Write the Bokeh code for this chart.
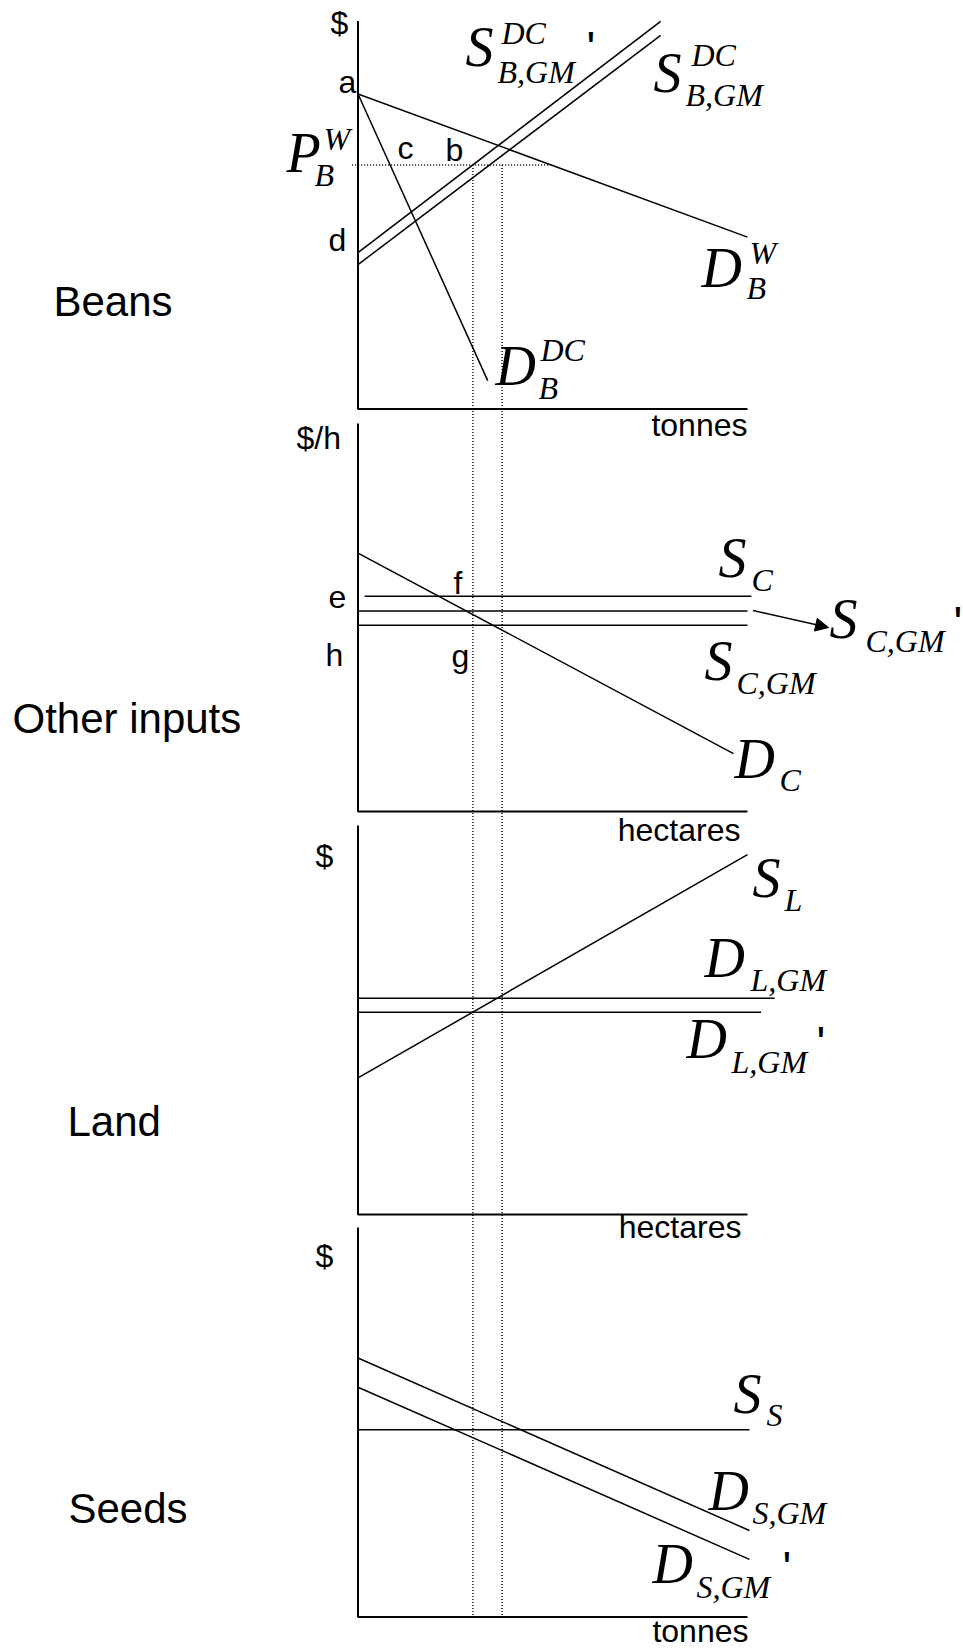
from bokeh.plotting import figure
from bokeh.models import Range1d, ColumnDataSource, Arrow, NormalHead
from bokeh.core.properties import value
from bokeh.embed import file_html
from bokeh.resources import INLINE

# ------------------------------------------------------------------
# DATA (schematic units: quantity 0..10 on every panel, price 0..10)
# ------------------------------------------------------------------
Q_MAX = 10.0
P_MAX = 10.0

# Beans market ($ vs tonnes)
beans_DW_q = [0.0, 10.0]          # world demand D_B^W
beans_DW_p = [8.12, 4.43]
beans_DDC_q = [0.0, 3.33]         # domestic demand D_B^DC
beans_DDC_p = [8.12, 0.73]
beans_SGMp_q = [0.0, 7.77]        # supply S_B,GM^DC '
beans_SGMp_p = [4.03, 9.99]
beans_SGM_q = [0.0, 7.77]         # supply S_B,GM^DC
beans_SGM_p = [3.72, 9.63]
beans_PW = 6.29                   # world price P_B^W
beans_PW_q = [-0.15, 4.90]
q_equil = [2.95, 3.70]            # quantities marked by dotted verticals

# Other inputs ($/h vs hectares)
inp_DC_q = [0.0, 9.64]
inp_DC_p = [6.66, 1.49]
inp_SC_q = [0.17, 10.10]
inp_SC_p = 5.55
inp_SCGMp_q = [0.0, 10.0]
inp_SCGMp_p = 5.17
inp_SCGM_q = [0.0, 10.0]
inp_SCGM_p = 4.80
inp_arrow_q = [10.14, 12.08]
inp_arrow_p = [5.18, 4.74]

# Land ($ vs hectares)
land_SL_q = [0.0, 10.0]
land_SL_p = [3.51, 9.25]
land_DLGM_q = [0.0, 10.70]
land_DLGM_p = 5.56
land_DLGMp_q = [0.0, 10.35]
land_DLGMp_p = 5.20

# Seeds ($ vs tonnes)
seed_DSGM_q = [0.0, 10.05]
seed_DSGM_p = [6.65, 2.22]
seed_DSGMp_q = [0.0, 10.05]
seed_DSGMp_p = [5.90, 1.48]
seed_SS_q = [0.0, 10.05]
seed_SS_p = 4.81

# ------------------------------------------------------------------
# LAYOUT (page pixels)
# ------------------------------------------------------------------
MARGIN = 0
FIG_W, FIG_H = 963, 1648
Q0_PX, Q10_PX = 357.5, 747.0
PANELS = {
    "beans": (20.5, 408.5),
    "inputs": (423.0, 811.0),
    "land": (825.0, 1214.0),
    "seeds": (1227.0, 1616.5),
}
X_L, X_R = MARGIN, MARGIN + FIG_W
Y_T, Y_B = MARGIN, MARGIN + FIG_H


def q_range():
    k = Q_MAX / (Q10_PX - Q0_PX)
    return Range1d(start=(X_L - Q0_PX) * k, end=(X_R - Q0_PX) * k)


def p_range(top, bot):
    k = P_MAX / (bot - top)
    return Range1d(start=(bot - Y_B) * k, end=(bot - Y_T) * k)


def to_panel(p_val, src, dst):
    """express a price of panel src in the price units of panel dst"""
    st, sb = PANELS[src]
    dt, db = PANELS[dst]
    page_y = sb - p_val * (sb - st) / P_MAX
    return (db - page_y) * P_MAX / (db - dt)


p = figure(width=FIG_W, height=FIG_H,
           x_range=Range1d(start=X_L, end=X_R),
           y_range=Range1d(start=Y_B, end=Y_T),
           x_axis_location=None, y_axis_location=None,
           output_backend="svg", toolbar_location=None, min_border=0)
p.grid.visible = False
p.outline_line_color = None
p.background_fill_color = "white"
p.border_fill_color = "white"
p.extra_x_ranges = {"q": q_range()}
p.extra_y_ranges = {name: p_range(*tb) for name, tb in PANELS.items()}


def seg(panel, qs, ps, width=1.5, dash="solid"):
    p.line(x=qs, y=ps, x_range_name="q", y_range_name=panel,
           line_color="black", line_width=width, line_dash=dash)


# axes of every panel
for name in PANELS:
    seg(name, [0.0, 0.0, Q_MAX], [P_MAX, 0.0, 0.0], width=2)

# beans
seg("beans", beans_DW_q, beans_DW_p)
seg("beans", beans_DDC_q, beans_DDC_p)
seg("beans", beans_SGMp_q, beans_SGMp_p)
seg("beans", beans_SGM_q, beans_SGM_p)
seg("beans", beans_PW_q, [beans_PW, beans_PW], width=1.4, dash="1 2")
bottom_in_beans = to_panel(0.0, "seeds", "beans")
for qv in q_equil:
    seg("beans", [qv, qv], [beans_PW, bottom_in_beans], width=1.4, dash="1 2")

# other inputs
seg("inputs", inp_DC_q, inp_DC_p)
seg("inputs", inp_SC_q, [inp_SC_p, inp_SC_p])
seg("inputs", inp_SCGMp_q, [inp_SCGMp_p, inp_SCGMp_p])
seg("inputs", inp_SCGM_q, [inp_SCGM_p, inp_SCGM_p])
p.add_layout(Arrow(end=NormalHead(size=13, fill_color="black", line_color="black", line_width=1),
                   x_start=inp_arrow_q[0], y_start=inp_arrow_p[0],
                   x_end=inp_arrow_q[1], y_end=inp_arrow_p[1],
                   x_range_name="q", y_range_name="inputs",
                   line_color="black", line_width=1.5))

# land
seg("land", land_SL_q, land_SL_p)
seg("land", land_DLGM_q, [land_DLGM_p, land_DLGM_p])
seg("land", land_DLGMp_q, [land_DLGMp_p, land_DLGMp_p])

# seeds
seg("seeds", seed_DSGM_q, seed_DSGM_p)
seg("seeds", seed_DSGMp_q, seed_DSGMp_p)
seg("seeds", seed_SS_q, [seed_SS_p, seed_SS_p])

# ------------------------------------------------------------------
# TEXT (page pixel positions given as left x and baseline y;
#       drawn with a "middle" anchor, ~0.34 em above the baseline)
# ------------------------------------------------------------------
SANS = value("Liberation Sans")
SERIF = value("Liberation Serif")


def texts(items, font, size, style="normal", align="left"):
    mid = 0.34 * size
    src = ColumnDataSource(dict(x=[i[0] for i in items], y=[i[1] - mid for i in items],
                                t=[i[2] for i in items]))
    p.text(x="x", y="y", text="t", source=src, text_font=font, text_font_size=f"{size}px",
           text_font_style=style, text_align=align, text_baseline="middle",
           text_color="black")


# side captions
texts([(53, 315, "Beans"), (12, 732, "Other inputs"), (67, 1135, "Land"), (68, 1522, "Seeds")],
      SANS, 42)

# small point letters and axis symbols
texts([(330, 33, "$"), (338, 92, "a"), (397, 158, "c"), (445, 160, "b"), (328, 250, "d"),
       (296, 448, "$/h"), (328, 607, "e"), (453, 593, "f"), (325, 665, "h"), (451, 666, "g"),
       (315, 866, "$"), (315, 1266, "$")], SANS, 32)
texts([(747, 435, "tonnes"), (740, 840, "hectares"), (741, 1237, "hectares"), (748, 1641, "tonnes")],
      SANS, 32, align="right")

# math labels: main letter, subscripts / superscripts, primes
mains = []
smalls = []
primes = []


def mlabel(x, y, main, sub=None, sub_d=(0, 0), sup=None, sup_d=(0, 0), prime_xy=None):
    mains.append((x, y, main))
    if sub:
        smalls.append((x + sub_d[0], y + sub_d[1], sub))
    if sup:
        smalls.append((x + sup_d[0], y + sup_d[1], sup))
    if prime_xy:
        primes.append((prime_xy[0], prime_xy[1], "'"))


mlabel(465, 66, "S", "B,GM", (32, 16), "DC", (36, -23), prime_xy=(586, 63))
mlabel(653, 92, "S", "B,GM", (32, 13), "DC", (38, -27))
mlabel(286, 172, "P", "B", (28, 13), "W", (37, -23))
mlabel(701, 287, "D", "B", (45, 11), "W", (48, -24))
mlabel(495, 385, "D", "B", (43, 13), "DC", (45, -25))
mlabel(718, 577, "S", "C", (33, 13))
mlabel(829, 638, "S", "C,GM", (36, 13), prime_xy=(953, 638))
mlabel(704, 680, "S", "C,GM", (32, 13))
mlabel(734, 778, "D", "C", (45, 12))
mlabel(752, 897, "S", "L", (32, 13))
mlabel(704, 977, "D", "L,GM", (46, 13))
mlabel(686, 1058, "D", "L,GM", (45, 14), prime_xy=(816, 1058))
mlabel(733, 1413, "S", "S", (33, 12))
mlabel(708, 1510, "D", "S,GM", (44, 13))
mlabel(652, 1583, "D", "S,GM", (44, 14), prime_xy=(782, 1583))

texts(mains, SERIF, 56, style="italic")
texts(smalls, SERIF, 32, style="italic")
texts(primes, SANS, 46)

open("out.html", "w").write(file_html(p, INLINE))
